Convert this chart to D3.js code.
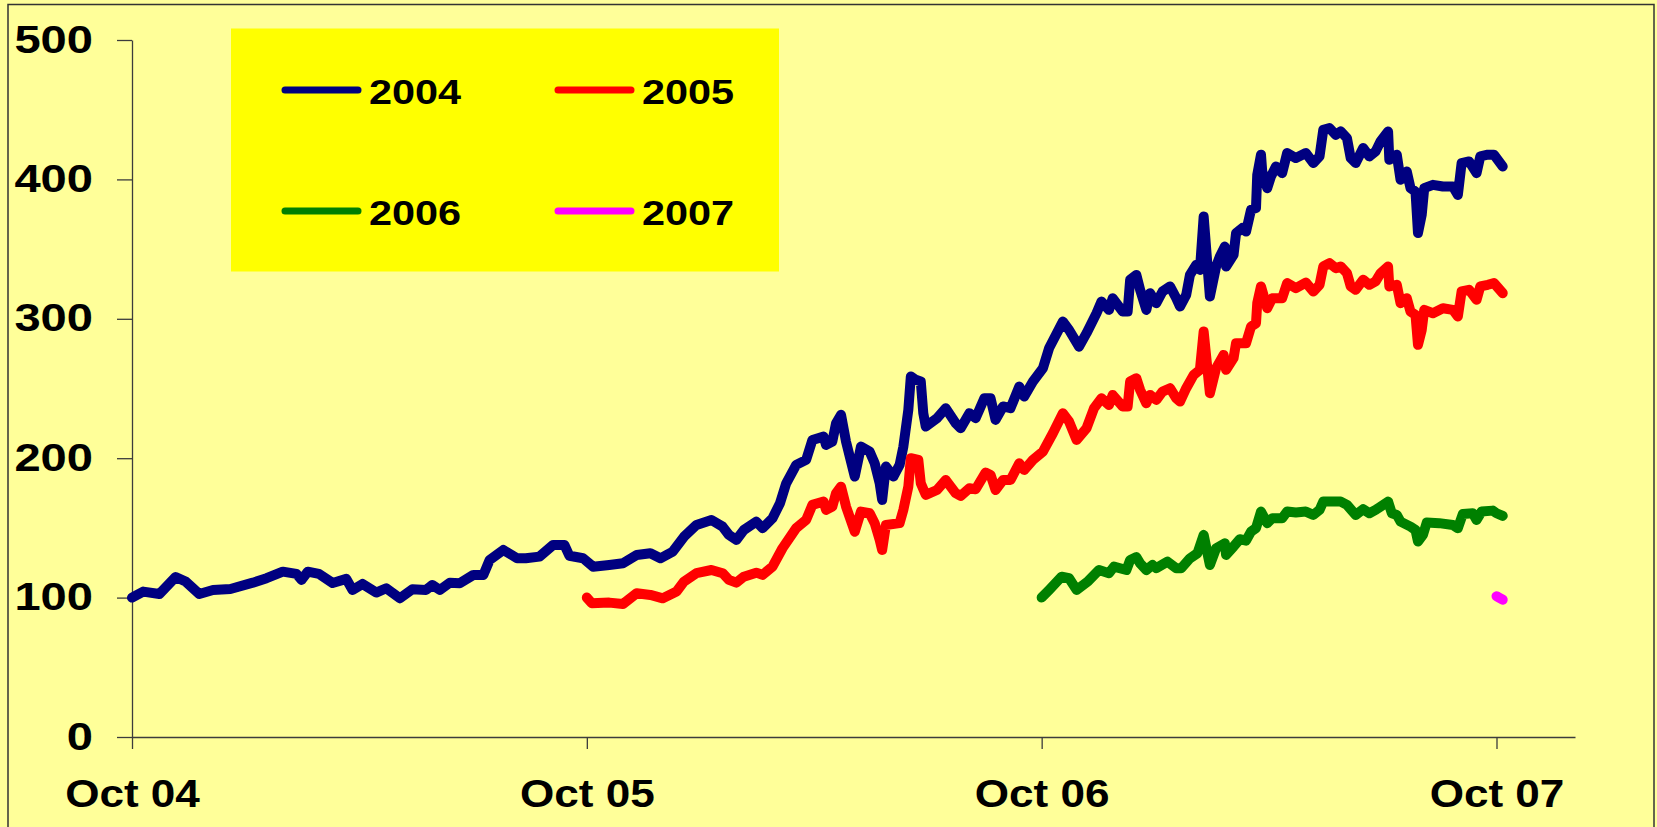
<!DOCTYPE html>
<html>
<head>
<meta charset="utf-8">
<script src="https://cdn.jsdelivr.net/npm/d3@7"></script>
<style>
  html, body { margin: 0; padding: 0; background: #ffff99; }
  svg { display: block; }
</style>
</head>
<body>
<svg id="chart" width="1657" height="827"></svg>
<script>
// index values, rebased to 100 at the start of each series
const series2004 = [
  ["2004-10-01", 100], ["2004-10-10", 104.3], ["2004-10-23", 102.6], ["2004-11-05", 114.8],
  ["2004-11-13", 111.5], ["2004-11-24", 102.6], ["2004-12-05", 105.5], ["2004-12-19", 106.2],
  ["2005-01-06", 110.7], ["2005-01-17", 113.9], ["2005-01-30", 118.6], ["2005-02-10", 117],
  ["2005-02-14", 112.7], ["2005-02-19", 118.6], ["2005-02-28", 117], ["2005-03-11", 110.5],
  ["2005-03-22", 113.4], ["2005-03-27", 105.5], ["2005-04-04", 109.8], ["2005-04-15", 103.6],
  ["2005-04-23", 106.7], ["2005-05-04", 99.5], ["2005-05-14", 106], ["2005-05-25", 105.5],
  ["2005-05-30", 109], ["2005-06-05", 105.5], ["2005-06-13", 110.7], ["2005-06-21", 110.3],
  ["2005-07-02", 116.3], ["2005-07-10", 116.3], ["2005-07-15", 127], ["2005-07-26", 134.2],
  ["2005-08-06", 128.2], ["2005-08-13", 128.2], ["2005-08-24", 129.4], ["2005-09-04", 137.8],
  ["2005-09-13", 137.8], ["2005-09-17", 130], ["2005-09-28", 128.2], ["2005-10-06", 122.2],
  ["2005-10-19", 123.4], ["2005-10-30", 124.6], ["2005-11-10", 130.6], ["2005-11-21", 131.8],
  ["2005-11-29", 128.2], ["2005-12-09", 133], ["2005-12-18", 143.7], ["2005-12-28", 152.1],
  ["2006-01-09", 155.7], ["2006-01-18", 150.9], ["2006-01-23", 145], ["2006-01-29", 141.4],
  ["2006-02-04", 148.5], ["2006-02-14", 154.5], ["2006-02-19", 149.8], ["2006-02-27", 156.9],
  ["2006-03-05", 167.7], ["2006-03-10", 182], ["2006-03-18", 195.2], ["2006-03-26", 198.8],
  ["2006-03-31", 213.1], ["2006-04-09", 215.5], ["2006-04-11", 209.5], ["2006-04-16", 211.9],
  ["2006-04-19", 225.1], ["2006-04-23", 231.1], ["2006-04-27", 211.9], ["2006-04-30", 201.1],
  ["2006-05-04", 186.8], ["2006-05-09", 208.3], ["2006-05-16", 204.7], ["2006-05-20", 196.4],
  ["2006-05-24", 182], ["2006-05-26", 170.1], ["2006-05-29", 194], ["2006-06-04", 186.8],
  ["2006-06-09", 195.2], ["2006-06-12", 208.3], ["2006-06-16", 234.7], ["2006-06-18", 258.6],
  ["2006-06-22", 256.2], ["2006-06-26", 255], ["2006-06-28", 232.3], ["2006-06-30", 222.7],
  ["2006-07-09", 228.7], ["2006-07-16", 235.9], ["2006-07-24", 225.1], ["2006-07-28", 221.5],
  ["2006-08-04", 232.3], ["2006-08-09", 228.7], ["2006-08-16", 243], ["2006-08-21", 243],
  ["2006-08-25", 227.5], ["2006-08-31", 237.1], ["2006-09-06", 235.9], ["2006-09-13", 251.4],
  ["2006-09-17", 244.2], ["2006-09-24", 255], ["2006-10-02", 264.6], ["2006-10-07", 279],
  ["2006-10-18", 298], ["2006-10-23", 292], ["2006-10-31", 280], ["2006-11-06", 289.7],
  ["2006-11-14", 304], ["2006-11-18", 312.4], ["2006-11-24", 306.4], ["2006-11-27", 314.8],
  ["2006-12-05", 305.2], ["2006-12-09", 305.2], ["2006-12-11", 328], ["2006-12-16", 331.5],
  ["2006-12-19", 320.8], ["2006-12-24", 306.4], ["2006-12-27", 318.4], ["2007-01-01", 311.2],
  ["2007-01-06", 319.6], ["2007-01-12", 323.2], ["2007-01-17", 314.8], ["2007-01-20", 308.8],
  ["2007-01-25", 317.2], ["2007-01-28", 331.5], ["2007-02-02", 338.7], ["2007-02-05", 335.1],
  ["2007-02-08", 373.4], ["2007-02-13", 316], ["2007-02-18", 337.5], ["2007-02-21", 344.7],
  ["2007-02-25", 351.8], ["2007-02-26", 337.5], ["2007-03-04", 345.9], ["2007-03-06", 361.5],
  ["2007-03-11", 365.1], ["2007-03-14", 362.6], ["2007-03-18", 378.2], ["2007-03-22", 379.4],
  ["2007-03-23", 403.3], ["2007-03-26", 417.7], ["2007-03-27", 405.7], ["2007-03-31", 393.7],
  ["2007-04-03", 402.1], ["2007-04-07", 409.3], ["2007-04-12", 404.5], ["2007-04-16", 418.9],
  ["2007-04-23", 415.3], ["2007-05-01", 418.9], ["2007-05-07", 411.7], ["2007-05-12", 416.5],
  ["2007-05-15", 435.6], ["2007-05-20", 436.8], ["2007-05-25", 432], ["2007-05-29", 434.4],
  ["2007-06-03", 429.6], ["2007-06-06", 415.3], ["2007-06-10", 411.7], ["2007-06-16", 422.5],
  ["2007-06-21", 416.5], ["2007-06-26", 420.1], ["2007-06-30", 427.3], ["2007-07-06", 434.4],
  ["2007-07-07", 414.1], ["2007-07-13", 417.7], ["2007-07-16", 399.7], ["2007-07-21", 405.7],
  ["2007-07-24", 393.7], ["2007-07-28", 391.3], ["2007-07-30", 361.5], ["2007-08-02", 374.6],
  ["2007-08-04", 393.7], ["2007-08-11", 396.1], ["2007-08-19", 394.9], ["2007-08-27", 394.9],
  ["2007-08-31", 388.9], ["2007-09-03", 411.7], ["2007-09-09", 412.9], ["2007-09-15", 404.5],
  ["2007-09-18", 416.5], ["2007-09-24", 417.7], ["2007-09-29", 417.7], ["2007-10-06", 409.3]
];

const series2005 = [
  ["2005-10-01", 100], ["2005-10-05", 95.9], ["2005-10-19", 96.4], ["2005-10-30", 95.4],
  ["2005-11-10", 103.1], ["2005-11-21", 101.9], ["2005-12-01", 99.5], ["2005-12-12", 104.3],
  ["2005-12-18", 111.5], ["2005-12-28", 117.5], ["2006-01-09", 119.8], ["2006-01-18", 117.5],
  ["2006-01-23", 112.7], ["2006-01-29", 110.7], ["2006-02-04", 115], ["2006-02-14", 117.9],
  ["2006-02-19", 116.3], ["2006-02-27", 122.2], ["2006-03-07", 135.4], ["2006-03-18", 149.8],
  ["2006-03-26", 155.7], ["2006-03-31", 166.5], ["2006-04-09", 168.9], ["2006-04-11", 162.9],
  ["2006-04-16", 165.3], ["2006-04-19", 174.9], ["2006-04-23", 179.6], ["2006-04-27", 165.3],
  ["2006-05-04", 147.3], ["2006-05-09", 161.7], ["2006-05-16", 160.5], ["2006-05-20", 153.4],
  ["2006-05-24", 141.4], ["2006-05-26", 134.2], ["2006-05-29", 152.1], ["2006-06-09", 153.4],
  ["2006-06-12", 162.9], ["2006-06-16", 179.6], ["2006-06-18", 200], ["2006-06-24", 198.8],
  ["2006-06-26", 182], ["2006-06-30", 173.7], ["2006-07-09", 177.2], ["2006-07-16", 184.4],
  ["2006-07-24", 174.9], ["2006-07-28", 172.9], ["2006-08-04", 178.4], ["2006-08-09", 177.7],
  ["2006-08-17", 189.7], ["2006-08-21", 188], ["2006-08-25", 177.2], ["2006-08-31", 184.4],
  ["2006-09-06", 184.4], ["2006-09-13", 196.4], ["2006-09-17", 191.6], ["2006-09-24", 198.8],
  ["2006-10-02", 204.7], ["2006-10-10", 217.9], ["2006-10-18", 232.3], ["2006-10-23", 226.3],
  ["2006-10-29", 213.1], ["2006-11-06", 221.5], ["2006-11-12", 235.9], ["2006-11-18", 243],
  ["2006-11-24", 238.2], ["2006-11-27", 245.4], ["2006-12-05", 237.1], ["2006-12-09", 237.1],
  ["2006-12-11", 255], ["2006-12-16", 257.4], ["2006-12-19", 249], ["2006-12-24", 239.4],
  ["2006-12-27", 245.4], ["2007-01-01", 241.8], ["2007-01-06", 247.8], ["2007-01-12", 250.2],
  ["2007-01-17", 243], ["2007-01-20", 240.6], ["2007-01-25", 250.2], ["2007-01-31", 259.8],
  ["2007-02-05", 263.4], ["2007-02-08", 290.9], ["2007-02-13", 246.6], ["2007-02-18", 264.6],
  ["2007-02-24", 274.1], ["2007-02-26", 263.4], ["2007-03-04", 271.8], ["2007-03-06", 282.5],
  ["2007-03-14", 282.5], ["2007-03-18", 294.4], ["2007-03-22", 296.8], ["2007-03-23", 311.2],
  ["2007-03-26", 323.2], ["2007-03-31", 307.6], ["2007-04-04", 314.8], ["2007-04-12", 314.8],
  ["2007-04-16", 325.6], ["2007-04-23", 322], ["2007-05-01", 326], ["2007-05-07", 319.6],
  ["2007-05-12", 324.4], ["2007-05-15", 337.5], ["2007-05-20", 339.9], ["2007-05-25", 336.3],
  ["2007-05-29", 337.5], ["2007-06-03", 332.7], ["2007-06-06", 323.2], ["2007-06-10", 320.8],
  ["2007-06-16", 328], ["2007-06-21", 324.4], ["2007-06-26", 326.8], ["2007-06-30", 332.7],
  ["2007-07-06", 337.5], ["2007-07-07", 323.2], ["2007-07-13", 324.4], ["2007-07-16", 311.2],
  ["2007-07-21", 314.8], ["2007-07-24", 305.2], ["2007-07-28", 302.8], ["2007-07-30", 281.3],
  ["2007-08-02", 292], ["2007-08-04", 306.4], ["2007-08-11", 304], ["2007-08-19", 307.6],
  ["2007-08-27", 306.4], ["2007-08-31", 301.6], ["2007-09-03", 319.6], ["2007-09-09", 320.8],
  ["2007-09-15", 313.6], ["2007-09-18", 323.2], ["2007-09-24", 324.4], ["2007-09-29", 325.6],
  ["2007-10-06", 318.4]
];

const series2006 = [
  ["2006-10-01", 100], ["2006-10-07", 105.5], ["2006-10-17", 115], ["2006-10-23", 113.9],
  ["2006-10-29", 105.5], ["2006-11-07", 111.5], ["2006-11-16", 119.8], ["2006-11-24", 117.5],
  ["2006-11-28", 122.2], ["2006-12-08", 119.8], ["2006-12-11", 127], ["2006-12-16", 129],
  ["2006-12-19", 124.6], ["2006-12-24", 119.8], ["2006-12-29", 123.4], ["2007-01-01", 121.1],
  ["2007-01-10", 125.8], ["2007-01-17", 121.1], ["2007-01-21", 121.1], ["2007-01-28", 128.2],
  ["2007-02-03", 131.8], ["2007-02-08", 145], ["2007-02-13", 123.4], ["2007-02-18", 135.4],
  ["2007-02-25", 139], ["2007-02-26", 130.6], ["2007-03-04", 136.6], ["2007-03-09", 141.9],
  ["2007-03-14", 140.9], ["2007-03-18", 147.3], ["2007-03-22", 149.8], ["2007-03-26", 161.7],
  ["2007-03-31", 153.4], ["2007-04-04", 156.9], ["2007-04-12", 156.9], ["2007-04-16", 161.7],
  ["2007-04-23", 161], ["2007-05-01", 161.7], ["2007-05-07", 159.3], ["2007-05-12", 162.9],
  ["2007-05-15", 168.9], ["2007-05-23", 168.9], ["2007-05-29", 168.9], ["2007-06-03", 166.5],
  ["2007-06-10", 159.3], ["2007-06-16", 163.4], ["2007-06-21", 160.5], ["2007-06-26", 162.9],
  ["2007-06-30", 165.3], ["2007-07-06", 168.9], ["2007-07-09", 160.5], ["2007-07-13", 159.3],
  ["2007-07-16", 154.5], ["2007-07-24", 150.9], ["2007-07-28", 148.5], ["2007-07-30", 140.2],
  ["2007-08-03", 145], ["2007-08-06", 153.8], ["2007-08-16", 153.4], ["2007-08-27", 152.1],
  ["2007-08-31", 149.8], ["2007-09-04", 160], ["2007-09-12", 160.5], ["2007-09-15", 155.7],
  ["2007-09-19", 161.7], ["2007-09-28", 162.4], ["2007-10-01", 160.5], ["2007-10-06", 158.6]
];

const series2007 = [
  ["2007-10-01", 101], ["2007-10-03", 100], ["2007-10-06", 98.5]
];

const seriesNames = ["2004", "2005", "2006", "2007"];
const seriesColors = ["#000080", "#ff0000", "#008000", "#ff00ff"];
const yTicks = [0, 100, 200, 300, 400, 500];
const xTickDates = ["2004-10-01", "2005-10-01", "2006-10-01", "2007-10-01"];
const xTickLabels = ["Oct 04", "Oct 05", "Oct 06", "Oct 07"];

const W = 1657, H = 827;
const font = "'Liberation Sans', Arial, sans-serif";
const parse = d3.timeParse("%Y-%m-%d");
const svg = d3.select("#chart");

// background + outer frame
svg.append("rect").attr("width", W).attr("height", H).attr("fill", "#ffff99");
svg.append("rect")
    .attr("x", 8).attr("y", 4.5)
    .attr("width", 1646).attr("height", 850)
    .attr("fill", "none")
    .attr("stroke", "#333")
    .attr("stroke-width", 1.5);

const x = d3.scaleTime()
    .domain([parse("2004-10-01"), parse("2007-12-03")])
    .range([132, 1575]);
const y = d3.scaleLinear()
    .domain([0, 500])
    .range([737, 40]);

// axes
const gx = svg.append("g")
    .attr("transform", "translate(0," + y(0) + ")")
    .call(d3.axisBottom(x)
        .tickValues(xTickDates.map(parse))
        .tickFormat((d, i) => xTickLabels[i])
        .tickSize(12)
        .tickSizeOuter(0)
        .tickPadding(31));

const gy = svg.append("g")
    .attr("transform", "translate(" + x.range()[0] + ",0)")
    .call(d3.axisLeft(y)
        .tickValues(yTicks)
        .tickSize(15)
        .tickSizeOuter(0)
        .tickPadding(24));

[gx, gy].forEach(g => {
    g.attr("color", "#3c3c3c")
        .attr("font-family", font)
        .attr("font-size", 38)
        .attr("font-weight", "bold");
    g.selectAll("path, line").attr("stroke-width", 1.3);
    g.selectAll("text").attr("fill", "#000");
});
// the original labels are a bit wider than plain Arial bold
gx.selectAll("text").attr("transform", "scale(1.16,1)");
gy.selectAll("text").attr("x", -39 / 1.24).attr("transform", "scale(1.24,1)");

// series lines
const line = d3.line()
    .x(d => x(parse(d[0])))
    .y(d => y(d[1]));

const allSeries = [series2004, series2005, series2006, series2007];

svg.append("g")
    .selectAll("path")
    .data(allSeries)
    .enter().append("path")
    .attr("d", line)
    .attr("fill", "none")
    .attr("stroke", (d, i) => seriesColors[i])
    .attr("stroke-width", 10)
    .attr("stroke-linejoin", "round")
    .attr("stroke-linecap", "round");

// legend
const legend = svg.append("g");
legend.append("rect")
    .attr("x", 231).attr("y", 28.5)
    .attr("width", 548).attr("height", 243)
    .attr("fill", "#ffff00");

const legendCols = [285, 558], legendRows = [90, 211];
seriesNames.forEach((name, i) => {
    const lx = legendCols[i % 2], ly = legendRows[Math.floor(i / 2)];
    legend.append("line")
        .attr("x1", lx).attr("x2", lx + 73)
        .attr("y1", ly).attr("y2", ly)
        .attr("stroke", seriesColors[i])
        .attr("stroke-width", 7)
        .attr("stroke-linecap", "round");
    legend.append("text")
        .attr("transform", "translate(" + (lx + 84) + "," + (ly + 14) + ") scale(1.2,1)")
        .attr("font-family", font)
        .attr("font-size", 34.5)
        .attr("font-weight", "bold")
        .attr("fill", "#000")
        .text(name);
});
</script>
</body>
</html>
